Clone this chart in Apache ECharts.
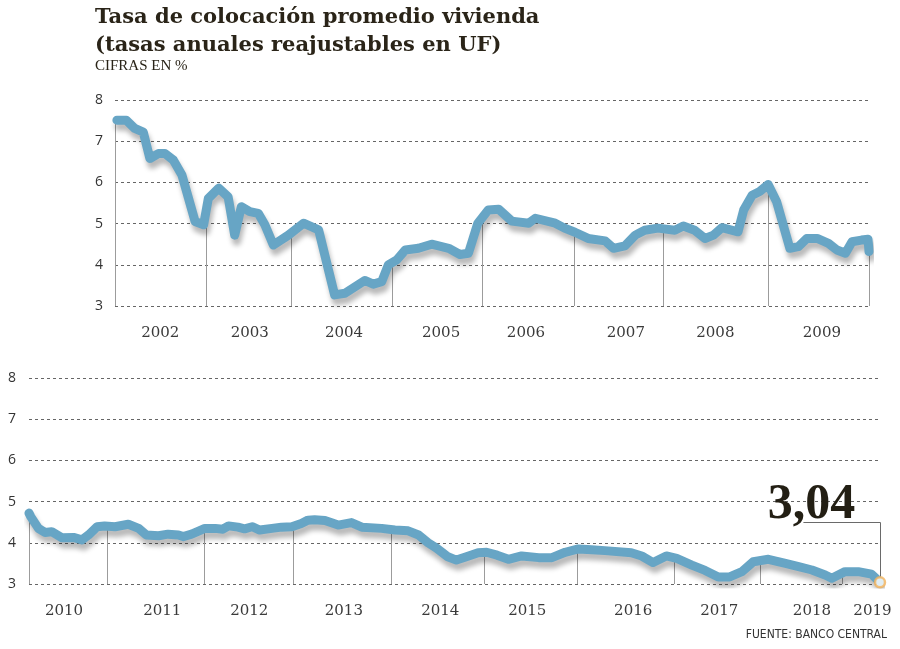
<!DOCTYPE html>
<html>
<head>
<meta charset="utf-8">
<script src="https://cdn.jsdelivr.net/npm/echarts@6/dist/echarts.min.js"></script>
<style>
html, body { margin: 0; padding: 0; background: #fff; }
#chart { width: 900px; height: 649px; }
</style>
</head>
<body>
<div id="chart"></div>
<script>
// top panel, 2002-2009 (x in decimal years)
var topX = [2002.02, 2002.12, 2002.21, 2002.30, 2002.37, 2002.46, 2002.53, 2002.62, 2002.71, 2002.85,
  2002.94, 2002.99, 2003.10, 2003.20, 2003.27, 2003.34, 2003.43, 2003.52, 2003.59, 2003.68,
  2003.84, 2004.00, 2004.16, 2004.33, 2004.44, 2004.65, 2004.74, 2004.83, 2004.90, 2004.99,
  2005.08, 2005.22, 2005.36, 2005.54, 2005.66, 2005.75, 2005.85, 2005.96, 2006.07, 2006.21,
  2006.39, 2006.46, 2006.67, 2006.77, 2006.88, 2007.02, 2007.20, 2007.29, 2007.41, 2007.52,
  2007.62, 2007.76, 2007.94, 2008.03, 2008.15, 2008.26, 2008.35, 2008.44, 2008.61, 2008.67,
  2008.76, 2008.84, 2008.93, 2009.02, 2009.16, 2009.25, 2009.34, 2009.45, 2009.57, 2009.66,
  2009.75, 2009.82, 2009.92, 2009.99, 2010.00];
var topY = [7.51, 7.51, 7.31, 7.22, 6.58, 6.70, 6.70, 6.54, 6.18, 5.05,
  4.97, 5.61, 5.86, 5.65, 4.72, 5.41, 5.29, 5.25, 4.97, 4.48,
  4.72, 5.01, 4.85, 3.27, 3.31, 3.62, 3.53, 3.59, 4.00, 4.12,
  4.36, 4.40, 4.50, 4.40, 4.25, 4.28, 5.01, 5.33, 5.35, 5.06,
  5.01, 5.13, 5.01, 4.89, 4.79, 4.64, 4.58, 4.40, 4.46, 4.72,
  4.84, 4.89, 4.84, 4.94, 4.84, 4.64, 4.72, 4.90, 4.80, 5.33,
  5.69, 5.78, 5.95, 5.53, 4.40, 4.44, 4.64, 4.64, 4.52, 4.36,
  4.28, 4.56, 4.60, 4.62, 4.32];
var topYears = ['2002', '2003', '2004', '2005', '2006', '2007', '2008', '2009'];
var topLabelPos = [2002.48, 2003.43, 2004.43, 2005.46, 2006.36, 2007.42, 2008.37, 2009.50];
var topDrops = [2002.0, 2002.966, 2003.867, 2004.939, 2005.894, 2006.870, 2007.814, 2008.928, 2010.0];

// bottom panel, 2010-2019
var botX = [2010.00, 2010.02, 2010.10, 2010.17, 2010.24, 2010.35, 2010.47, 2010.56, 2010.63, 2010.72,
  2010.80, 2010.91, 2011.05, 2011.16, 2011.24, 2011.37, 2011.47, 2011.58, 2011.63, 2011.72,
  2011.86, 2011.97, 2012.05, 2012.11, 2012.21, 2012.28, 2012.36, 2012.44, 2012.57, 2012.67,
  2012.78, 2012.88, 2012.95, 2013.02, 2013.13, 2013.27, 2013.41, 2013.52, 2013.73, 2013.87,
  2014.01, 2014.12, 2014.22, 2014.31, 2014.43, 2014.52, 2014.61, 2014.75, 2014.84, 2014.95,
  2015.07, 2015.21, 2015.39, 2015.53, 2015.67, 2015.81, 2015.95, 2016.09, 2016.37, 2016.48,
  2016.60, 2016.74, 2016.85, 2017.01, 2017.15, 2017.29, 2017.41, 2017.54, 2017.66, 2017.82,
  2018.00, 2018.14, 2018.28, 2018.42, 2018.49, 2018.63, 2018.77, 2018.91, 2019.00];
var botY = [4.72, 4.63, 4.35, 4.25, 4.27, 4.12, 4.13, 4.07, 4.19, 4.39,
  4.41, 4.39, 4.45, 4.35, 4.19, 4.17, 4.21, 4.19, 4.15, 4.21,
  4.35, 4.35, 4.33, 4.41, 4.38, 4.34, 4.39, 4.31, 4.35, 4.38,
  4.39, 4.47, 4.55, 4.56, 4.54, 4.43, 4.49, 4.38, 4.35, 4.31,
  4.29, 4.19, 4.00, 3.87, 3.66, 3.58, 3.65, 3.76, 3.77, 3.70,
  3.60, 3.68, 3.64, 3.64, 3.77, 3.85, 3.83, 3.81, 3.76, 3.68,
  3.52, 3.68, 3.62, 3.46, 3.33, 3.17, 3.17, 3.30, 3.54, 3.60,
  3.50, 3.42, 3.34, 3.22, 3.14, 3.30, 3.30, 3.24, 3.04];
var botYears = ['2010', '2011', '2012', '2013', '2014', '2015', '2016', '2017', '2018', '2019'];
var botLabelPos = [2010.37, 2011.41, 2012.33, 2013.33, 2014.35, 2015.27, 2016.39, 2017.30, 2018.28, 2018.92];
var botDrops = [2010.0, 2010.828, 2011.854, 2012.795, 2013.828, 2014.812, 2015.799, 2016.821, 2017.728, 2018.595];

var yTicks = [3, 4, 5, 6, 7, 8];

var lineColor = '#67a5c5';
var calloutLevel = 4.5;     // height of the callout elbow
var calloutLeft = 2018.19;  // where the callout rule ends on the left

function zip(xs, ys) {
  return xs.map(function (x, i) { return [x, ys[i]]; });
}

function valueAt(xs, ys, x) {
  if (x <= xs[0]) return ys[0];
  for (var i = 1; i < xs.length; i++) {
    if (x <= xs[i]) {
      var t = (x - xs[i - 1]) / (xs[i] - xs[i - 1]);
      return ys[i - 1] + t * (ys[i] - ys[i - 1]);
    }
  }
  return ys[ys.length - 1];
}

function nearestLabel(pos, names) {
  return function (v) {
    var best = 0;
    for (var i = 1; i < pos.length; i++) {
      if (Math.abs(pos[i] - v) < Math.abs(pos[best] - v)) best = i;
    }
    return names[best];
  };
}

function dropLines(api) {
  var p0 = api.coord([api.value(0), yTicks[0]]);
  var p1 = api.coord([api.value(0), api.value(1)]);
  var x = Math.round(p0[0]) + 0.5;
  return {
    type: 'line',
    shape: { x1: x, y1: p0[1], x2: x, y2: p1[1] },
    style: { stroke: '#9c9c9c', lineWidth: 1 }
  };
}

function xAxisFor(grid, min, max, pos, names) {
  return {
    gridIndex: grid, type: 'value', min: min, max: max,
    axisLine: { show: false }, axisTick: { show: false }, splitLine: { show: false },
    axisLabel: {
      customValues: pos,
      formatter: nearestLabel(pos, names),
      margin: 20,
      color: '#3a3a3a',
      fontFamily: 'DejaVu Serif',
      fontSize: 15
    }
  };
}

function yAxisFor(grid, margin) {
  return {
    gridIndex: grid, type: 'value', min: yTicks[0], max: yTicks[yTicks.length - 1], interval: 1,
    axisLine: { show: false }, axisTick: { show: false },
    splitLine: { lineStyle: { color: '#666', type: [3, 3], width: 1 } },
    axisLabel: { margin: margin, color: '#333', fontFamily: 'Open Sans', fontSize: 14 }
  };
}

function lineSeries(axis, data) {
  return {
    type: 'line', xAxisIndex: axis, yAxisIndex: axis, data: data,
    showSymbol: false, z: 3,
    lineStyle: {
      color: lineColor, width: 9, cap: 'round', join: 'round',
      shadowColor: 'rgba(0,0,0,0.28)', shadowBlur: 5, shadowOffsetX: 2, shadowOffsetY: 6
    }
  };
}

var lastX = botX[botX.length - 1];
var lastY = botY[botY.length - 1];

var chart = echarts.init(document.getElementById('chart'));

var option = {
  animation: false,
  backgroundColor: '#fff',
  graphic: [
    { type: 'text', left: 95, top: 4,
      style: { text: 'Tasa de colocación promedio vivienda\n(tasas anuales reajustables en UF)',
        font: 'bold 21px "DejaVu Serif"', fill: '#2a2418', lineHeight: 28 } },
    { type: 'text', left: 95, top: 59,
      style: { text: 'CIFRAS EN %', font: '15px "Liberation Serif"', fill: '#2a2418' } },
    { type: 'text', right: 13, top: 629,
      style: { text: 'FUENTE: BANCO CENTRAL', font: '12px "DejaVu Sans Condensed"', fill: '#333' } }
  ],
  grid: [
    { left: 115, right: 31, top: 100, height: 206 },
    { left: 29, right: 20, top: 378, height: 206 }
  ],
  xAxis: [
    xAxisFor(0, 2002, 2010, topLabelPos, topYears),
    xAxisFor(1, 2010, 2019, botLabelPos, botYears)
  ],
  yAxis: [yAxisFor(0, 12), yAxisFor(1, 13)],
  series: [
    {
      type: 'custom', xAxisIndex: 0, yAxisIndex: 0, z: 1, silent: true,
      data: topDrops.map(function (x) { return [x, valueAt(topX, topY, x)]; }),
      renderItem: function (params, api) { return dropLines(api); }
    },
    {
      type: 'custom', xAxisIndex: 1, yAxisIndex: 1, z: 1, silent: true,
      data: botDrops.map(function (x) { return [x, valueAt(botX, botY, x)]; }),
      renderItem: function (params, api) { return dropLines(api); }
    },
    lineSeries(0, zip(topX, topY)),
    lineSeries(1, zip(botX, botY)),
    {
      // callout for the last value
      type: 'custom', xAxisIndex: 1, yAxisIndex: 1, z: 2, silent: true,
      data: [[lastX, lastY]],
      renderItem: function (params, api) {
        var p = api.coord([api.value(0), api.value(1)]);
        var elbow = api.coord([api.value(0), calloutLevel]);
        var left = api.coord([calloutLeft, calloutLevel]);
        var x = Math.round(p[0]) + 0.5;
        var y = Math.round(elbow[1]) + 0.5;
        return {
          type: 'group',
          children: [
            { type: 'polyline',
              shape: { points: [[x, p[1]], [x, y], [left[0], y]] },
              style: { stroke: '#6a6a6a', lineWidth: 1, fill: null } },
            { type: 'text',
              x: left[0] + 8, y: y + 8,
              style: { text: String(api.value(1).toFixed(2)).replace('.', ','),
                font: 'bold 50px "Liberation Serif"', fill: '#231f14',
                textAlign: 'center', textVerticalAlign: 'bottom' } }
          ]
        };
      }
    },
    {
      type: 'scatter', xAxisIndex: 1, yAxisIndex: 1, z: 5,
      data: [[lastX, lastY]],
      symbolSize: 10,
      itemStyle: { color: '#fff', borderColor: '#f3b35b', borderWidth: 2.5 }
    }
  ]
};

chart.setOption(option);
</script>
</body>
</html>
